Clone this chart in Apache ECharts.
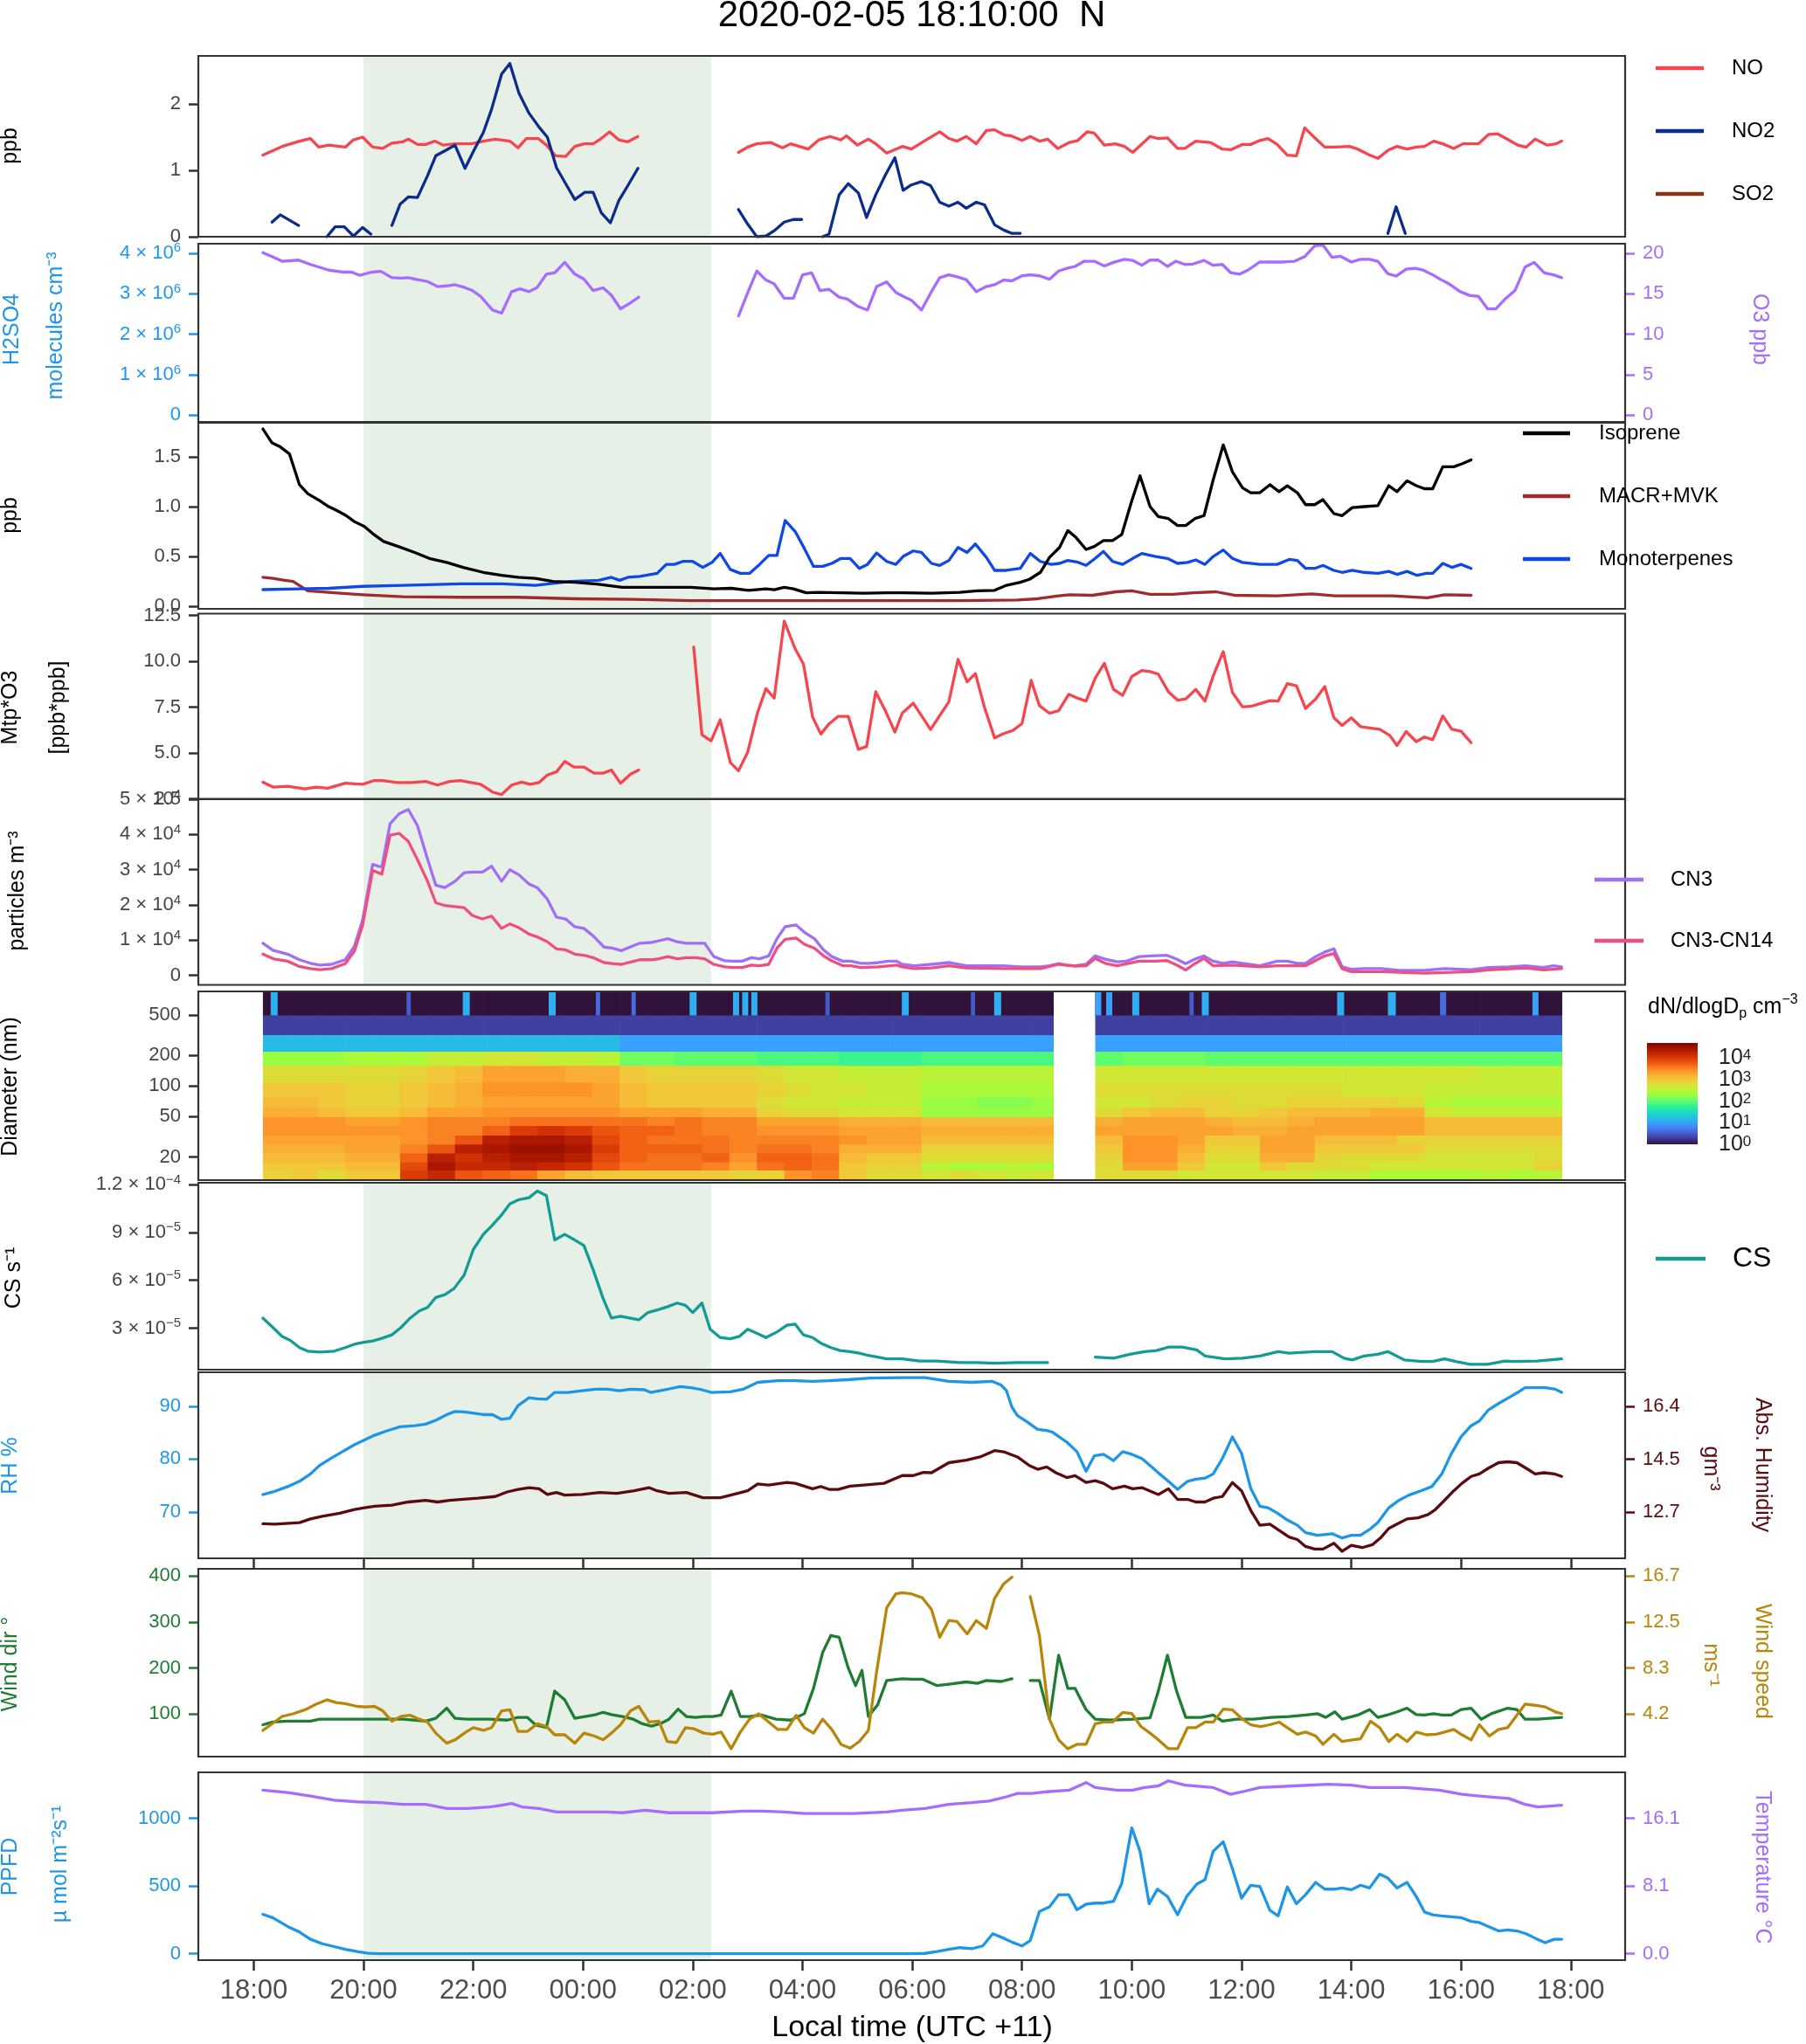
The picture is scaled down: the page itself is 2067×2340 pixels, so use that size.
<!DOCTYPE html>
<html><head><meta charset="utf-8">
<script src="https://cdn.jsdelivr.net/npm/echarts/dist/echarts.min.js"></script>
<style>html,body{margin:0;padding:0;background:#fff}#c{width:2067px;height:2340px}</style>
</head><body><div id="c"></div><script>
// ---------------- DATA ----------------
const titleText = '2020-02-05 18:10:00  N';
const nightStart = '20:00', nightEnd = '02:20';
const xTickHours = [0,2,4,6,8,10,12,14,16,18,20,22,24];

const noData = [['18:10',1.23],['18:31',1.36],['18:50',1.44],['19:02',1.48],['19:11',1.35],['19:22',1.38],['19:40',1.35],['19:49',1.46],['19:59',1.50],['20:10',1.35],['20:21',1.33],['20:31',1.41],['20:43',1.43],['20:49',1.47],['20:59',1.39],['21:08',1.39],['21:18',1.44],['21:27',1.38],['21:40',1.40],['21:58',1.40],['22:11',1.44],['22:24',1.47],['22:40',1.44],['22:49',1.34],['22:58',1.48],['23:11',1.48],['23:20',1.38],['23:30',1.22],['23:41',1.21],['23:51',1.36],['00:01',1.40],['00:11',1.40],['00:20',1.48],['00:29',1.58],['00:39',1.46],['00:49',1.43],['01:00',1.51],['01:50',null],['02:50',1.27],['03:00',1.35],['03:10',1.40],['03:25',1.42],['03:38',1.34],['03:47',1.40],['04:06',1.32],['04:18',1.46],['04:30',1.51],['04:42',1.46],['04:48',1.52],['05:00',1.38],['05:12',1.47],['05:19',1.41],['05:32',1.26],['05:49',1.36],['05:59',1.32],['06:14',1.45],['06:30',1.58],['06:40',1.48],['06:49',1.44],['06:59',1.51],['07:10',1.40],['07:21',1.60],['07:30',1.61],['07:41',1.53],['07:48',1.52],['08:00',1.45],['08:09',1.51],['08:19',1.44],['08:28',1.47],['08:39',1.33],['08:52',1.42],['09:01',1.45],['09:11',1.58],['09:19',1.56],['09:30',1.38],['09:42',1.40],['09:52',1.36],['10:01',1.27],['10:20',1.51],['10:29',1.48],['10:39',1.49],['10:50',1.33],['10:58',1.33],['11:10',1.44],['11:26',1.42],['11:39',1.32],['11:48',1.31],['12:01',1.39],['12:10',1.39],['12:20',1.45],['12:29',1.48],['12:39',1.39],['12:50',1.23],['13:00',1.22],['13:09',1.64],['13:20',1.49],['13:31',1.35],['13:42',1.35],['13:58',1.36],['14:07',1.32],['14:20',1.23],['14:29',1.18],['14:41',1.31],['14:50',1.36],['15:01',1.32],['15:11',1.35],['15:20',1.36],['15:30',1.44],['15:40',1.40],['15:52',1.33],['16:02',1.40],['16:19',1.40],['16:30',1.54],['16:40',1.55],['16:53',1.45],['17:02',1.38],['17:11',1.35],['17:21',1.47],['17:34',1.38],['17:44',1.40],['17:50',1.44]];

const no2Data = [['18:20',0.22],['18:29',0.33],['18:49',0.17],['18:55',null],['19:20',0.0],['19:29',0.15],['19:39',0.15],['19:49',0.01],['19:59',0.14],['20:08',0.04],['20:20',null],['20:31',0.17],['20:40',0.49],['20:49',0.60],['20:59',0.59],['21:10',0.92],['21:19',1.22],['21:31',1.31],['21:40',1.38],['21:51',1.03],['22:01',1.31],['22:11',1.57],['22:20',1.92],['22:31',2.45],['22:40',2.61],['22:50',2.16],['23:01',1.86],['23:12',1.65],['23:21',1.50],['23:31',1.04],['23:41',0.80],['23:51',0.56],['00:02',0.67],['00:11',0.67],['00:20',0.36],['00:30',0.21],['00:39',0.54],['00:49',0.77],['01:00',1.03],['01:50',null],['02:50',0.41],['03:00',0.19],['03:10',0.0],['03:20',0.01],['03:29',0.09],['03:40',0.22],['03:50',0.26],['03:59',0.26],['04:10',null],['04:22',0.0],['04:29',0.04],['04:40',0.63],['04:50',0.80],['05:01',0.66],['05:10',0.29],['05:20',0.63],['05:31',0.94],['05:41',1.19],['05:50',0.70],['05:59',0.78],['06:10',0.83],['06:20',0.77],['06:30',0.52],['06:40',0.46],['06:50',0.52],['06:59',0.43],['07:10',0.52],['07:19',0.48],['07:30',0.18],['07:40',0.10],['07:49',0.05],['07:58',0.05],['08:10',null],['14:40',0.05],['14:49',0.45],['14:59',0.05]];

const so2Data = [];

const o3Data = [['18:10',20.05],['18:20',19.57],['18:31',19.0],['18:49',19.14],['19:02',18.6],['19:22',17.9],['19:37',17.66],['19:47',17.66],['19:56',17.26],['20:09',17.66],['20:19',17.76],['20:31',16.97],['20:41',16.92],['20:49',16.97],['20:59',16.73],['21:10',16.5],['21:21',15.87],['21:31',15.96],['21:40',16.1],['21:50',15.78],['21:59',15.39],['22:08',14.67],['22:21',12.98],['22:31',12.6],['22:42',15.25],['22:51',15.6],['23:01',15.25],['23:10',15.78],['23:20',17.41],['23:29',17.56],['23:40',18.86],['23:51',17.41],['00:01',16.8],['00:11',15.39],['00:22',15.72],['00:31',14.8],['00:41',13.13],['00:51',13.8],['01:01',14.57],['01:50',null],['02:50',12.26],['03:01',15.39],['03:10',17.79],['03:20',16.68],['03:29',16.2],['03:40',14.43],['03:50',14.43],['04:00',17.32],['04:10',17.56],['04:19',15.39],['04:29',15.53],['04:40',14.57],['04:49',14.33],['05:00',13.46],['05:11',12.98],['05:21',15.87],['05:32',16.44],['05:42',15.15],['05:50',14.67],['05:59',14.19],['06:10',12.98],['06:20',15.05],['06:30',16.97],['06:40',17.32],['06:49',17.08],['06:59',16.73],['07:10',15.25],['07:21',15.87],['07:30',16.1],['07:40',16.68],['07:49',16.58],['08:00',17.2],['08:09',17.32],['08:19',17.2],['08:30',16.78],['08:40',17.79],['08:49',18.12],['08:58',18.36],['09:08',19.0],['09:19',19.0],['09:30',18.41],['09:40',18.86],['09:52',19.24],['10:01',19.1],['10:11',18.5],['10:20',19.14],['10:29',19.14],['10:39',18.36],['10:48',19.0],['10:58',18.6],['11:07',18.65],['11:19',19.1],['11:29',18.5],['11:39',18.6],['11:48',17.6],['11:58',17.41],['12:07',17.9],['12:20',18.9],['12:32',18.9],['12:45',18.9],['12:58',19.0],['13:09',19.57],['13:20',20.9],['13:29',21.0],['13:39',19.47],['13:48',19.62],['14:00',18.9],['14:10',19.24],['14:20',19.24],['14:29',19.0],['14:40',17.46],['14:49',17.17],['15:00',18.02],['15:10',18.12],['15:19',17.88],['15:29',17.32],['15:38',16.73],['15:47',16.2],['15:59',15.25],['16:10',14.76],['16:19',14.67],['16:29',13.13],['16:38',13.13],['16:49',14.43],['16:59',15.39],['17:10',18.27],['17:20',18.86],['17:31',17.56],['17:41',17.32],['17:50',16.97]];

const isopreneData = [['18:10',1.78],['18:20',1.64],['18:29',1.60],['18:39',1.53],['18:50',1.22],['18:59',1.13],['19:12',1.06],['19:22',1.00],['19:31',0.96],['19:41',0.91],['19:50',0.85],['20:01',0.80],['20:10',0.73],['20:22',0.65],['20:38',0.60],['20:56',0.54],['21:12',0.48],['21:31',0.44],['21:49',0.39],['22:11',0.34],['22:31',0.31],['22:49',0.29],['23:08',0.28],['23:27',0.25],['23:52',0.24],['00:17',0.22],['00:43',0.19],['01:08',0.19],['01:32',0.19],['01:58',0.19],['02:23',0.175],['02:42',0.18],['03:01',0.16],['03:20',0.175],['03:29',0.165],['03:40',0.19],['03:50',0.175],['04:04',0.135],['04:17',0.14],['04:42',0.135],['05:07',0.13],['05:32',0.135],['05:49',0.135],['06:21',0.13],['06:52',0.14],['07:11',0.155],['07:30',0.16],['07:43',0.21],['07:58',0.24],['08:08',0.27],['08:20',0.34],['08:30',0.49],['08:41',0.59],['08:50',0.76],['08:59',0.69],['09:10',0.57],['09:19',0.60],['09:29',0.66],['09:39',0.66],['09:49',0.72],['10:00',1.06],['10:09',1.31],['10:20',1.00],['10:29',0.90],['10:40',0.88],['10:50',0.81],['10:59',0.81],['11:09',0.88],['11:19',0.91],['11:29',1.27],['11:40',1.62],['11:50',1.35],['12:01',1.19],['12:10',1.14],['12:20',1.14],['12:31',1.22],['12:41',1.15],['12:50',1.21],['13:01',1.14],['13:10',1.02],['13:20',1.02],['13:29',1.07],['13:41',0.93],['13:50',0.91],['14:01',0.99],['14:14',1.00],['14:29',1.01],['14:41',1.21],['14:50',1.15],['15:01',1.26],['15:11',1.21],['15:20',1.18],['15:29',1.18],['15:40',1.40],['15:52',1.40],['16:01',1.43],['16:11',1.47]];

const macrData = [['18:10',0.29],['18:21',0.28],['18:34',0.26],['18:43',0.25],['18:59',0.155],['19:28',0.135],['19:59',0.115],['20:43',0.095],['21:46',0.09],['22:49',0.09],['23:52',0.075],['00:55',0.07],['01:58',0.057],['03:00',0.057],['04:04',0.057],['05:07',0.057],['06:52',0.057],['07:55',0.063],['08:17',0.075],['08:40',0.105],['08:52',0.115],['09:17',0.11],['09:43',0.145],['10:00',0.155],['10:20',0.12],['10:45',0.12],['11:07',0.135],['11:32',0.145],['11:52',0.11],['12:39',0.105],['13:17',0.125],['13:42',0.105],['14:45',0.105],['15:23',0.085],['15:42',0.115],['16:11',0.11]];

const monoData = [['18:10',0.167],['18:50',0.175],['19:22',0.18],['19:59',0.20],['20:43',0.21],['21:46',0.225],['22:31',0.225],['23:08',0.21],['23:46',0.25],['00:17',0.26],['00:31',0.29],['00:40',0.26],['00:49',0.29],['01:02',0.30],['01:21',0.33],['01:31',0.42],['01:40',0.42],['01:49',0.45],['02:00',0.45],['02:11',0.39],['02:21',0.44],['02:30',0.53],['02:41',0.37],['02:52',0.33],['03:02',0.33],['03:13',0.42],['03:23',0.51],['03:32',0.51],['03:41',0.86],['03:52',0.75],['04:02',0.58],['04:12',0.40],['04:22',0.40],['04:32',0.43],['04:42',0.48],['04:52',0.48],['05:02',0.38],['05:11',0.42],['05:21',0.535],['05:32',0.45],['05:42',0.42],['05:50',0.50],['06:01',0.555],['06:10',0.54],['06:21',0.43],['06:30',0.41],['06:40',0.46],['06:50',0.59],['07:00',0.54],['07:09',0.625],['07:21',0.49],['07:30',0.36],['07:43',0.36],['07:58',0.38],['08:09',0.53],['08:20',0.45],['08:32',0.42],['08:41',0.43],['08:50',0.46],['09:00',0.445],['09:10',0.41],['09:20',0.48],['09:29',0.55],['09:39',0.45],['09:50',0.42],['10:01',0.48],['10:11',0.53],['10:26',0.50],['10:39',0.48],['10:50',0.43],['11:01',0.44],['11:10',0.465],['11:20',0.42],['11:29',0.50],['11:40',0.565],['11:50',0.48],['12:01',0.44],['12:20',0.42],['12:39',0.42],['12:52',0.47],['13:01',0.46],['13:10',0.38],['13:20',0.38],['13:29',0.41],['13:41',0.36],['13:50',0.34],['14:01',0.36],['14:14',0.34],['14:29',0.33],['14:41',0.35],['14:50',0.32],['15:01',0.35],['15:12',0.31],['15:22',0.33],['15:29',0.33],['15:40',0.43],['15:50',0.39],['16:00',0.42],['16:11',0.38]];

const mtpO3Data = [['18:10',3.41],['18:21',3.14],['18:37',3.18],['18:56',3.04],['19:08',3.14],['19:21',3.08],['19:40',3.35],['19:59',3.29],['20:11',3.49],['20:21',3.49],['20:37',3.39],['20:52',3.39],['21:08',3.45],['21:21',3.25],['21:34',3.45],['21:46',3.49],['22:08',3.29],['22:21',2.87],['22:31',2.73],['22:42',3.25],['22:53',3.41],['23:02',3.29],['23:12',3.39],['23:21',3.80],['23:31',3.97],['23:40',4.54],['23:50',4.23],['00:01',4.23],['00:12',3.9],['00:22',3.9],['00:31',4.07],['00:41',3.35],['00:52',3.85],['01:01',4.07],['01:30',null],['02:01',10.78],['02:10',5.99],['02:20',5.66],['02:30',6.81],['02:41',4.48],['02:50',4.03],['03:00',5.04],['03:11',7.23],['03:20',8.51],['03:29',7.99],['03:40',12.19],['03:52',10.68],['04:01',9.85],['04:11',6.96],['04:20',6.03],['04:29',6.59],['04:39',7.0],['04:50',7.0],['05:01',5.2],['05:10',5.35],['05:20',8.34],['05:31',7.26],['05:41',6.14],['05:49',7.17],['06:01',7.72],['06:20',6.28],['06:40',7.79],['06:50',10.1],['07:00',8.88],['07:09',9.33],['07:19',7.48],['07:30',5.82],['07:40',6.06],['07:50',6.23],['08:00',6.61],['08:10',8.96],['08:19',7.58],['08:30',7.17],['08:40',7.31],['08:51',8.2],['09:00',8.0],['09:10',7.83],['09:20',9.08],['09:30',9.89],['09:40',8.47],['09:50',8.14],['10:00',9.17],['10:11',9.5],['10:20',9.44],['10:29',9.3],['10:40',8.34],['10:50',7.88],['10:59',7.95],['11:10',8.47],['11:20',7.83],['11:29',9.2],['11:40',10.53],['11:50',8.3],['12:01',7.52],['12:10',7.54],['12:20',7.69],['12:31',7.85],['12:40',7.83],['12:50',8.78],['13:00',8.66],['13:10',7.43],['13:21',7.94],['13:31',8.62],['13:41',6.92],['13:50',6.50],['14:00',6.92],['14:10',6.44],['14:20',6.37],['14:31',6.29],['14:42',5.96],['14:50',5.41],['15:00',6.17],['15:11',5.62],['15:20',5.87],['15:29',5.72],['15:40',7.02],['15:50',6.29],['16:00',6.19],['16:11',5.56]];

const cn3Data = [['18:10',9100],['18:21',7100],['18:37',6000],['18:50',4400],['19:02',3400],['19:12',2900],['19:25',3100],['19:40',4400],['19:50',8200],['19:59',15700],['20:10',31500],['20:20',30700],['20:29',43000],['20:39',45900],['20:49',47100],['20:59',42500],['21:10',33000],['21:19',25600],['21:29',24900],['21:40',26700],['21:50',29100],['21:59',29300],['22:10',29300],['22:20',31000],['22:31',26700],['22:40',30000],['22:50',28500],['23:01',25900],['23:10',24900],['23:21',21600],['23:31',16500],['23:41',16000],['23:51',13800],['00:01',13300],['00:11',11200],['00:23',8000],['00:32',7700],['00:42',7000],['00:53',8200],['01:02',9100],['01:14',9300],['01:23',9800],['01:33',10400],['01:43',9500],['01:53',9100],['02:03',9100],['02:13',9100],['02:23',5300],['02:35',4100],['02:44',4000],['02:54',4000],['03:04',5000],['03:13',4700],['03:23',5500],['03:32',10400],['03:41',13800],['03:53',14300],['04:02',12200],['04:13',10400],['04:23',7200],['04:32',5300],['04:44',4000],['04:53',4000],['05:04',3400],['05:13',3400],['05:23',3600],['05:34',4000],['05:43',4000],['05:49',3100],['06:02',2700],['06:21',3100],['06:40',3600],['06:59',2700],['07:17',2700],['07:40',2700],['07:58',2400],['08:20',2400],['08:30',2700],['08:40',3300],['08:49',2900],['08:58',2700],['09:10',3100],['09:20',5500],['09:32',4500],['09:44',3800],['09:54',4000],['10:08',5300],['10:20',5500],['10:38',5700],['10:49',4600],['10:59',3300],['11:09',4600],['11:19',5500],['11:29',4000],['11:40',3400],['11:50',3800],['12:01',3400],['12:20',2700],['12:39',4000],['12:50',4000],['13:01',3400],['13:10',3400],['13:21',5300],['13:31',6600],['13:41',7500],['13:50',2400],['14:00',1700],['14:14',1900],['14:33',1900],['14:52',1400],['15:20',1400],['15:42',1900],['16:11',1600],['16:30',2200],['16:52',2400],['17:11',2700],['17:30',2200],['17:41',2700],['17:50',2400]];

const cn14Data = [['18:10',6000],['18:21',4700],['18:37',4000],['18:50',2500],['19:02',1900],['19:12',1600],['19:25',1900],['19:40',3300],['19:50',6800],['19:59',14200],['20:10',29800],['20:20',28700],['20:29',39800],['20:39',40300],['20:49',38000],['20:59',32800],['21:10',26700],['21:19',20600],['21:29',19800],['21:40',19500],['21:50',19200],['21:59',17000],['22:10',16000],['22:20',16800],['22:31',13300],['22:40',14600],['22:50',13500],['23:01',11700],['23:10',10900],['23:21',9500],['23:31',7500],['23:41',7200],['23:51',6000],['00:01',5700],['00:11',5000],['00:23',3600],['00:32',3300],['00:42',3100],['00:53',3800],['01:02',4400],['01:14',4400],['01:23',4700],['01:33',5300],['01:43',4700],['01:53',5000],['02:03',5000],['02:13',4700],['02:23',3100],['02:35',2400],['02:44',2200],['02:54',2200],['03:04',2900],['03:13',2700],['03:23',3100],['03:32',7700],['03:41',10200],['03:53',10600],['04:02',8800],['04:13',7700],['04:23',5500],['04:32',4100],['04:44',2700],['04:53',2700],['05:04',2200],['05:23',2400],['05:43',2900],['05:49',2400],['06:02',1900],['06:21',2100],['06:40',2700],['06:59',2100],['07:40',1900],['08:20',1900],['08:40',3100],['08:58',2600],['09:10',2700],['09:20',4800],['09:32',3300],['09:44',2700],['10:08',4000],['10:26',4000],['10:38',4200],['10:49',2900],['10:59',1500],['11:09',3300],['11:19',4800],['11:29',2700],['11:50',2900],['12:20',2400],['12:39',2700],['13:10',2700],['13:21',4200],['13:31',5500],['13:41',6200],['13:50',1900],['14:00',1000],['14:33',1000],['15:20',600],['16:11',1000],['16:30',1500],['17:11',2100],['17:30',1500],['17:50',1900]];

// condensation sink in units of 1e-5 s-1
const csData = [['18:10',3.63],['18:21',3.04],['18:31',2.48],['18:40',2.23],['18:50',1.78],['18:59',1.56],['19:12',1.50],['19:28',1.56],['19:40',1.78],['19:50',1.99],['19:59',2.10],['20:10',2.2],['20:20',2.36],['20:31',2.58],['20:41',3.04],['20:51',3.63],['21:01',4.08],['21:10',4.3],['21:19',4.92],['21:29',5.1],['21:39',5.48],['21:50',6.32],['22:00',7.92],['22:11',8.87],['22:20',9.39],['22:31',10.09],['22:40',10.78],['22:49',11.03],['23:01',11.17],['23:10',11.59],['23:20',11.3],['23:29',8.52],['23:40',8.87],['23:51',8.52],['00:01',8.17],['00:11',6.67],['00:22',4.85],['00:31',3.63],['00:41',3.74],['00:51',3.63],['01:01',3.52],['01:11',3.98],['01:22',4.15],['01:32',4.33],['01:43',4.57],['01:52',4.43],['02:00',3.98],['02:10',4.57],['02:19',2.93],['02:30',2.41],['02:41',2.34],['02:51',2.48],['03:00',2.93],['03:11',2.65],['03:20',2.41],['03:32',2.76],['03:43',3.18],['03:52',3.25],['04:01',2.58],['04:11',2.41],['04:20',2.06],['04:31',1.78],['04:41',1.60],['04:52',1.53],['05:02',1.43],['05:12',1.29],['05:22',1.19],['05:32',1.08],['05:49',1.08],['06:08',0.94],['06:27',0.94],['06:52',0.84],['07:11',0.84],['07:30',0.8],['07:55',0.84],['08:28',0.84],['08:50',null],['09:20',1.19],['09:40',1.12],['09:58',1.36],['10:14',1.53],['10:27',1.60],['10:40',1.81],['10:55',1.81],['11:11',1.64],['11:20',1.26],['11:42',1.08],['12:01',1.12],['12:20',1.26],['12:40',1.53],['12:52',1.43],['13:20',1.53],['13:39',1.53],['13:52',1.12],['14:01',1.01],['14:14',1.26],['14:29',1.36],['14:40',1.53],['14:58',1.01],['15:17',0.91],['15:29',0.91],['15:42',1.08],['15:54',0.91],['16:10',0.73],['16:29',0.73],['16:48',0.94],['16:58',0.91],['17:23',0.94],['17:50',1.08]];

const rhData = [['18:10',73.3],['18:21',73.8],['18:37',74.8],['18:50',75.8],['19:02',77.2],['19:12',78.8],['19:25',80.2],['19:37',81.4],['19:50',82.7],['20:01',83.6],['20:12',84.5],['20:25',85.3],['20:40',86.1],['20:56',86.3],['21:08',86.6],['21:20',87.4],['21:31',88.4],['21:40',89.0],['21:50',88.9],['21:59',88.7],['22:11',88.4],['22:21',88.4],['22:31',87.5],['22:40',87.7],['22:49',90.1],['23:01',91.6],['23:10',91.4],['23:20',91.3],['23:29',92.6],['23:43',92.6],['23:59',92.9],['00:14',93.2],['00:27',93.2],['00:40',92.9],['00:52',93.2],['01:07',93.1],['01:14',92.6],['01:30',93.1],['01:46',93.7],['01:58',93.5],['02:10',93.1],['02:20',92.6],['02:41',92.7],['02:55',93.2],['03:11',94.5],['03:33',94.8],['03:52',94.8],['04:11',94.7],['04:29',94.8],['04:49',95.0],['05:14',95.3],['05:49',95.4],['06:14',95.4],['06:40',94.7],['07:05',94.5],['07:27',94.7],['07:37',94.0],['07:43',92.9],['07:49',89.8],['07:55',88.2],['08:05',87.1],['08:17',85.6],['08:27',85.4],['08:33',85.1],['08:49',83.2],['09:00',81.4],['09:10',77.7],['09:19',80.6],['09:29',80.9],['09:40',79.7],['09:50',81.4],['10:00',80.9],['10:11',80.1],['10:20',78.8],['10:29',77.4],['10:40',75.8],['10:50',74.3],['11:01',75.8],['11:10',76.2],['11:20',76.4],['11:29',77.2],['11:39',80.1],['11:50',84.2],['12:00',81.1],['12:10',74.5],['12:20',71.1],['12:29',70.8],['12:39',69.8],['12:50',68.5],['13:01',67.5],['13:10',66.1],['13:23',65.6],['13:39',65.9],['13:50',65.1],['14:00',65.6],['14:10',65.6],['14:20',66.7],['14:29',68.0],['14:41',70.8],['14:52',72.2],['15:03',73.2],['15:16',74.0],['15:28',74.8],['15:39',77.2],['15:49',80.9],['16:00',84.2],['16:11',86.3],['16:20',87.2],['16:30',89.3],['16:41',90.5],['16:52',91.6],['17:02',92.6],['17:10',93.5],['17:21',93.5],['17:32',93.5],['17:43',93.2],['17:50',92.6]];

const ahData = [['18:10',12.29],['18:23',12.28],['18:50',12.33],['19:02',12.46],['19:15',12.55],['19:34',12.66],['19:50',12.79],['20:01',12.85],['20:12',12.90],['20:31',12.94],['20:49',13.05],['21:08',13.11],['21:21',13.05],['21:34',13.11],['21:46',13.14],['22:05',13.18],['22:24',13.24],['22:37',13.40],['22:49',13.49],['23:01',13.55],['23:12',13.51],['23:21',13.31],['23:31',13.38],['23:40',13.29],['23:59',13.31],['00:18',13.38],['00:37',13.35],['00:56',13.44],['01:12',13.55],['01:21',13.44],['01:34',13.35],['01:53',13.38],['02:11',13.20],['02:30',13.20],['02:49',13.35],['03:00',13.44],['03:11',13.68],['03:23',13.64],['03:43',13.73],['03:52',13.70],['04:11',13.51],['04:20',13.59],['04:29',13.49],['04:39',13.49],['04:52',13.60],['05:07',13.64],['05:29',13.70],['05:49',13.97],['06:01',13.97],['06:12',14.08],['06:21',14.07],['06:40',14.42],['06:59',14.51],['07:14',14.62],['07:30',14.84],['07:40',14.80],['07:55',14.62],['08:08',14.32],['08:17',14.19],['08:27',14.27],['08:37',14.07],['08:49',13.90],['08:58',13.97],['09:10',13.73],['09:20',13.79],['09:29',13.70],['09:39',13.51],['09:52',13.60],['10:01',13.51],['10:11',13.55],['10:29',13.31],['10:40',13.51],['10:50',13.14],['11:01',13.14],['11:10',13.05],['11:20',13.05],['11:29',13.18],['11:39',13.24],['11:50',13.73],['12:00',13.44],['12:10',12.76],['12:20',12.24],['12:31',12.28],['12:42',12.04],['12:52',11.83],['13:01',11.74],['13:10',11.50],['13:20',11.41],['13:29',11.41],['13:41',11.61],['13:50',11.33],['14:00',11.54],['14:12',11.46],['14:23',11.56],['14:32',11.80],['14:41',12.13],['14:50',12.28],['15:01',12.46],['15:13',12.50],['15:24',12.61],['15:32',12.79],['15:42',13.11],['15:52',13.44],['16:01',13.70],['16:11',13.94],['16:20',14.03],['16:30',14.23],['16:41',14.42],['16:51',14.45],['17:01',14.42],['17:11',14.23],['17:21',14.03],['17:31',14.07],['17:42',14.03],['17:50',13.94]];

const windDirData = [['18:10',77],['18:21',83],['18:37',85],['19:02',85],['19:12',89],['19:40',89],['20:12',89],['20:43',89],['21:08',85],['21:19',91],['21:31',113],['21:40',91],['21:53',89],['22:18',89],['22:37',87],['22:49',93],['22:59',93],['23:08',77],['23:20',71],['23:29',150],['23:40',131],['23:51',91],['00:02',95],['00:12',98],['00:22',104],['00:31',99],['00:43',95],['00:55',89],['01:05',79],['01:15',74],['01:25',80],['01:34',89],['01:44',111],['01:53',95],['02:03',93],['02:13',95],['02:22',95],['02:31',98],['02:42',150],['02:52',95],['03:02',95],['03:15',98],['03:31',89],['03:47',87],['04:02',101],['04:12',156],['04:22',234],['04:31',271],['04:40',267],['04:50',200],['04:58',162],['05:05',195],['05:12',95],['05:22',120],['05:32',173],['05:49',177],['05:59',176],['06:11',176],['06:27',162],['06:40',165],['06:59',170],['07:11',167],['07:21',173],['07:37',171],['07:49',177],['08:00',null],['08:09',173],['08:19',173],['08:30',89],['08:40',228],['08:50',156],['08:58',156],['09:10',110],['09:20',89],['09:36',87],['10:01',89],['10:20',92],['10:29',150],['10:39',228],['10:49',150],['10:59',93],['11:16',93],['11:29',98],['11:39',85],['11:55',89],['12:13',89],['12:32',93],['12:52',95],['13:10',98],['13:23',101],['13:32',93],['13:42',105],['13:50',89],['14:07',98],['14:20',110],['14:29',93],['14:39',98],['14:50',105],['15:01',113],['15:11',99],['15:20',98],['15:30',101],['15:39',98],['15:49',98],['16:00',110],['16:11',113],['16:22',89],['16:33',101],['16:51',113],['17:01',110],['17:10',89],['17:24',89],['17:50',93]];

const windSpeedData = [['18:10',2.70],['18:21',3.35],['18:31',3.96],['18:43',4.20],['18:56',4.56],['19:08',5.07],['19:20',5.47],['19:30',5.22],['19:40',5.12],['19:53',4.87],['20:02',4.82],['20:12',4.87],['20:21',4.47],['20:31',3.53],['20:41',3.97],['20:51',4.07],['21:01',3.71],['21:10',3.45],['21:19',2.45],['21:31',1.54],['21:40',1.84],['21:52',2.55],['22:00',2.95],['22:11',2.70],['22:20',2.95],['22:31',4.47],['22:40',4.56],['22:49',2.60],['22:59',2.60],['23:10',3.30],['23:20',3.05],['23:29',2.30],['23:40',2.30],['23:51',1.54],['00:01',2.45],['00:12',2.20],['00:22',1.84],['00:31',2.45],['00:41',3.21],['00:52',4.47],['01:01',4.87],['01:12',3.45],['01:23',3.53],['01:32',1.69],['01:42',1.59],['01:52',2.95],['02:01',2.85],['02:12',2.45],['02:22',2.35],['02:31',2.55],['02:42',1.04],['02:52',2.55],['03:02',3.71],['03:12',4.20],['03:22',3.53],['03:33',2.78],['03:43',2.78],['03:53',4.07],['04:02',2.95],['04:12',2.45],['04:22',3.71],['04:32',2.78],['04:42',1.44],['04:52',1.09],['05:02',1.69],['05:12',2.70],['05:21',7.99],['05:32',13.79],['05:42',15.05],['05:49',15.15],['05:59',15.05],['06:11',14.70],['06:21',13.65],['06:30',11.13],['06:40',12.64],['06:49',12.54],['07:00',11.43],['07:10',12.64],['07:21',11.93],['07:30',14.65],['07:40',15.96],['07:49',16.57],['08:00',null],['08:09',14.80],['08:19',11.28],['08:30',3.71],['08:40',1.84],['08:50',1.04],['09:00',1.44],['09:10',1.44],['09:20',3.30],['09:29',3.45],['09:39',3.45],['09:50',4.32],['10:00',4.22],['10:10',3.05],['10:20',2.45],['10:29',1.84],['10:40',1.04],['10:50',1.04],['11:01',2.95],['11:10',2.95],['11:20',3.45],['11:29',3.45],['11:40',4.62],['11:50',4.56],['12:01',3.71],['12:10',3.21],['12:21',3.05],['12:31',3.21],['12:41',3.45],['12:50',2.95],['13:01',2.35],['13:10',2.55],['13:21',2.20],['13:29',1.44],['13:41',2.35],['13:50',1.69],['14:01',1.84],['14:10',1.94],['14:21',3.53],['14:31',2.95],['14:41',1.69],['14:50',2.35],['15:01',1.69],['15:11',2.55],['15:22',2.30],['15:33',2.35],['15:42',2.55],['15:52',2.78],['16:01',2.30],['16:11',1.84],['16:20',3.21],['16:31',2.20],['16:41',2.78],['16:51',2.95],['17:10',5.07],['17:21',4.97],['17:32',4.82],['17:43',4.37],['17:50',4.22]];

const ppfdData = [['18:10',292],['18:21',265],['18:37',202],['18:50',161],['19:02',107],['19:15',74],['19:28',53],['19:40',33],['19:53',16],['20:05',4],['20:18',0],['06:00',0],['06:14',3],['06:27',16],['06:40',33],['06:52',45],['07:05',37],['07:17',58],['07:28',148],['07:40',115],['07:49',86],['08:00',58],['08:09',98],['08:19',313],['08:30',346],['08:40',436],['08:51',436],['09:00',325],['09:10',366],['09:20',374],['09:29',374],['09:40',387],['09:49',519],['10:00',930],['10:09',757],['10:19',370],['10:28',477],['10:39',423],['10:50',288],['11:00',423],['11:11',514],['11:20',547],['11:29',757],['11:40',827],['11:50',629],['12:00',411],['12:10',506],['12:20',498],['12:31',321],['12:40',280],['12:50',494],['13:00',370],['13:10',436],['13:21',527],['13:31',477],['13:41',477],['13:50',486],['14:00',473],['14:10',506],['14:20',486],['14:31',588],['14:40',559],['14:50',486],['15:01',527],['15:11',423],['15:20',309],['15:29',288],['15:39',280],['16:00',267],['16:11',239],['16:20',231],['16:31',198],['16:41',169],['16:51',177],['17:01',169],['17:11',148],['17:21',115],['17:32',82],['17:42',107],['17:50',107]];

const tempData = [['18:10',19.5],['18:37',19.2],['19:02',18.8],['19:28',18.3],['19:53',18.1],['20:18',18.0],['20:43',17.8],['21:08',17.8],['21:31',17.3],['21:53',17.3],['22:18',17.5],['22:31',17.7],['22:42',17.9],['22:53',17.5],['23:12',17.3],['23:31',16.9],['23:53',16.9],['00:25',16.9],['00:43',16.8],['01:08',17.1],['01:34',16.8],['02:22',16.8],['02:56',17.0],['03:15',17.0],['03:40',16.9],['04:02',16.7],['04:31',16.7],['04:56',16.7],['05:32',16.9],['05:49',17.1],['06:14',17.3],['06:40',17.8],['07:05',18.0],['07:24',18.2],['07:43',18.7],['07:55',19.1],['08:11',19.1],['08:27',19.3],['08:52',19.5],['09:10',20.4],['09:20',19.8],['09:43',19.5],['10:01',19.5],['10:14',19.8],['10:29',20.0],['10:40',20.6],['10:58',20.1],['11:29',19.8],['11:48',19.0],['12:01',19.3],['12:20',19.8],['12:58',20.0],['13:35',20.2],['14:00',20.1],['14:20',19.8],['14:58',19.8],['15:36',19.5],['16:01',19.0],['16:20',18.8],['16:52',18.5],['17:10',17.8],['17:24',17.5],['17:50',17.7]];

// size distribution (log10 dN/dlogDp x10), rows bottom -> top, columns: segment 1 then segment 2
const hmSeg1 = ['18:10','18:40','19:10','19:40','20:10','20:40','21:10','21:40','22:10','22:40','23:10','23:40','00:10','00:40','01:10','01:40','02:10','02:40','03:10','03:40','04:10','04:40','05:10','05:40','06:10','06:40','07:10','07:40','08:10','08:34'];
const hmSeg2 = ['09:20','09:50','10:20','10:50','11:20','11:50','12:20','12:50','13:20','13:50','14:20','14:50','15:20','15:50','16:20','16:50','17:20','17:50'];
const hmDiamEdges = [12,15,18,22,27,33,41,50,62,80,110,160,220,320,500,850];
const hmRows = [
 [29,30,28,30,30,40,42,38,37,36,33,31,30,30,30,30,30,29,29,34,35,30,28,28,27,28,27,26,27, 28,28,28,27,27,27,27,27,26,26,24,24,24,24,25,24,25],
 [30,30,30,31,31,39,44,42,42,43,42,41,38,36,36,36,35,33,36,37,36,30,29,29,25,24,24,25,24, 28,33,33,30,27,27,30,28,28,28,27,27,27,27,27,27,29],
 [31,31,31,32,32,37,43,41,43,44,44,43,39,37,36,36,37,34,37,37,36,31,30,30,28,28,28,28,28, 29,34,34,31,28,28,32,32,29,28,28,28,27,27,27,27,28],
 [32,32,32,33,33,35,38,43,44,45,45,44,40,37,37,37,36,35,36,36,35,32,32,32,29,29,29,29,29, 30,34,34,32,29,29,33,33,30,30,30,30,28,28,28,28,28],
 [33,33,33,33,33,34,35,38,43,44,44,43,39,37,36,36,36,35,35,35,35,34,33,33,31,31,31,31,31, 31,34,34,33,30,30,33,33,31,31,31,29,29,29,29,29,29],
 [34,34,34,34,34,34,35,35,37,40,41,40,38,37,37,36,35,35,34,34,34,33,33,33,32,32,32,32,32, 33,33,33,33,33,32,32,33,33,33,33,33,31,31,31,31,31],
 [34,34,34,33,33,34,35,35,35,36,36,36,36,36,35,36,35,35,33,33,33,32,32,32,31,31,31,31,31, 32,33,33,33,32,31,31,32,33,33,33,33,31,31,31,31,31],
 [32,32,31,30,30,31,33,33,34,34,34,34,34,33,33,33,32,32,29,28,28,27,27,27,23,23,23,23,23, 28,30,31,31,29,29,30,31,31,31,32,32,27,26,26,26,26],
 [31,31,30,29,29,30,31,32,33,33,33,33,33,31,30,30,30,30,28,27,27,26,26,26,23,23,22,22,23, 27,27,28,29,29,28,28,29,29,29,29,28,25,24,24,24,24],
 [30,30,30,29,29,30,31,32,34,34,34,34,33,31,30,30,30,30,29,28,27,27,26,26,24,24,24,24,24, 28,28,28,28,28,28,28,28,28,27,27,27,26,26,26,26,26],
 [28,28,28,28,28,29,30,31,33,33,33,32,32,30,29,29,29,29,28,27,27,26,26,26,25,25,25,25,25, 27,27,27,27,27,27,27,27,27,27,27,27,27,27,26,26,26],
 [23,23,23,24,24,24,26,26,27,27,26,26,25,21,21,20,20,20,19,19,19,18,18,18,19,19,19,19,19, 20,21,21,21,20,20,20,20,20,20,20,20,20,20,20,20,20],
 [12,12,12,12,12,12,12,12,12,12,12,12,12,10,10,10,10,10,10,10,10,10,10,10,10,10,10,10,10, 10,10,10,10,10,10,10,10,10,10,10,10,10,10,10,10,10],
 [3,3,3,3,3,3,3,3,3,3,3,3,3,3,3,3,3,3,3,3,3,3,3,3,3,3,3,3,3, 3,3,3,3,3,3,3,3,3,3,3,3,3,3,3,3,3],
 [0,0,0,0,0,0,0,0,0,0,0,0,0,0,0,0,0,0,0,0,0,0,0,0,0,0,0,0,0, 0,0,0,0,0,0,0,0,0,0,0,0,0,0,0,0,0]
];
// short bright bursts in the top size bin: [time, log10 value, width in minutes]
const hmStreaks = [['18:22',1.1,7],['20:49',0.5,4],['21:52',1.1,7],['23:26',1.1,7],['00:16',0.6,4],['00:55',0.6,4],['02:00',1.1,7],['02:47',1.1,6],['02:57',1.1,6],['03:07',1.1,6],['04:27',0.5,4],['05:52',1.1,7],['07:06',0.5,4],['07:33',1.1,7],['09:23',1.0,6],['09:35',1.0,6],['10:04',1.1,7],['11:05',0.5,4],['11:20',1.1,7],['13:48',1.1,7],['14:44',1.1,8],['15:40',0.6,6],['17:21',1.0,6]];
const colorbarTicksEven = [0,2,4];
const colorbarTicksOdd = [1,3];

// ---------------- HELPERS ----------------
const FONT = '"Liberation Sans", Arial, Helvetica, sans-serif';
const C = { no:'#f6454f', no2:'#0c2c8c', so2:'#8b3510', o3:'#a66cff', h2so4:'#1e96f0', iso:'#000000', macr:'#a02a2e', mono:'#1048e8', mtp:'#f6454f', cn3:'#a06ff5', cn14:'#ee4f80', cs:'#129c94', rh:'#1e96e8', ah:'#5b0a0f', wd:'#1e7d32', ws:'#b8860b', ppfd:'#1e96e8', temp:'#a66cff', night:'#e7f0e7', txt:'#444444' };
const turbo = ['#30123b','#4145ab','#4675ed','#39a2fc','#1bcfd4','#24eca6','#61fc6c','#a4fc3b','#d1e834','#f3c63a','#fe9b2d','#f36315','#d93806','#b11901','#7a0403'];
const SUP = {'0':'⁰','1':'¹','2':'²','3':'³','4':'⁴','5':'⁵','6':'⁶','7':'⁷','8':'⁸','9':'⁹','-':'⁻'};
const sup = s => String(s).split('').map(c => SUP[c] || c).join('');

function tt(s){ const p = s.split(':').map(Number); let v = p[0] + p[1]/60; if (v < 18) v += 24; return v - 18; }
function pts(arr){ return arr.map(d => [tt(d[0]), d[1] === null ? '-' : d[1]]); }
function fmtHour(v){ const h = (18 + Math.round(v)) % 24; return (h < 10 ? '0' : '') + h + ':00'; }
function richStyle(color, size, supSize, lh){
  return { n:{fontSize:size, color, fontFamily:FONT, lineHeight: lh || size+4}, e:{fontSize:supSize, color, fontFamily:FONT, lineHeight:supSize, verticalAlign:'top'} };
}

const X_MIN = -1.01, X_MAX = 24.99;
const grids = [
  {top:64, height:207}, {top:279, height:204}, {top:484, height:213}, {top:702.5, height:212},
  {top:915, height:212.5}, {top:1135, height:216}, {top:1354, height:214}, {top:1571, height:213},
  {top:1796, height:215}, {top:2029, height:215}
];

function yAx(gi, min, max, ticks, color, fmt, position, type){
  const o = {
    type: type || 'value', gridIndex: gi, min, max, position: position || 'left',
    splitLine:{show:false}, axisLine:{show:false, onZero:false},
    axisTick:{show:true, length:11, customValues: ticks, lineStyle:{color: color === C.txt ? '#333' : color, width:2.5}},
    axisLabel:{customValues: ticks, interval:0, showMinLabel:true, showMaxLabel:true, hideOverlap:false, fontSize:22, color, margin:20, fontFamily: FONT, rich: richStyle(color, 22, 15), formatter: fmt || (v => String(v))}
  };
  if (type === 'log') o.logBase = 10;
  return o;
}
const sci = (m, e) => '{n|' + m + ' × 10}{e|' + e + '}';
function cbAxis(position, labelTicks, tickVals){
  return {type:'value', gridIndex:10, min:0, max:4.7, position, splitLine:{show:false}, axisLine:{show:false, onZero:false},
    axisTick:{show: tickVals.length > 0, inside:true, length:9, customValues: tickVals.length ? tickVals : [0], lineStyle:{color:'#ffffff', width:2}},
    axisLabel:{show: labelTicks.length > 0, customValues: labelTicks.length ? labelTicks : [0], showMinLabel:true, showMaxLabel:true, fontSize:24, color:'#222', margin:24, fontFamily:FONT,
      rich: richStyle('#222', 25, 17, 22), formatter: v => '{n|10}{e|' + Math.round(v) + '}'}};
}

const yAxes = [
  yAx(0, 0, 2.724, [0,1,2], C.txt),
  yAx(1, -0.164e6, 4.232e6, [0,1e6,2e6,3e6,4e6], C.h2so4, v => v === 0 ? '{n|0}' : sci(Math.round(v/1e6), '6')),
  yAx(1, -0.82, 21.16, [0,5,10,15,20], C.o3, null, 'right'),
  yAx(2, -0.026, 1.842, [0,0.5,1,1.5], C.txt, v => v.toFixed(1)),
  yAx(3, 2.5, 12.6, [2.5,5,7.5,10,12.5], C.txt, v => v.toFixed(1)),
  yAx(4, -2730, 50000, [0,1e4,2e4,3e4,4e4,5e4], C.txt, v => v === 0 ? '{n|0}' : sci(Math.round(v/1e4), '4')),
  yAx(5, 11.9, 849, [20,50,100,200,500], C.txt, null, 'left', 'log'),
  yAx(6, 4.0e-6, 1.2106e-4, [3e-5,6e-5,9e-5,1.2e-4], C.txt, v => v >= 1e-4 ? sci((v/1e-4).toFixed(1), '−4') : sci(Math.round(v/1e-5), '−5')),
  yAx(7, 61.25, 96.4, [70,80,90], C.rh),
  yAx(7, 11.086, 17.571, [12.7,14.54,16.39], C.ah, v => v.toFixed(1), 'right'),
  yAx(8, 7.8, 415.7, [100,200,300,400], C.wd),
  yAx(8, 0.325, 17.321, [100/24,200/24,300/24,400/24], C.ws, v => v.toFixed(1), 'right'),
  yAx(9, -47, 1340, [0,500,1000], C.ppfd),
  yAx(9, -0.758, 21.613, [0,500/62,1000/62], C.temp, v => v.toFixed(1), 'right'),
  // colourbar axes (labels split over two coincident axes so none are dropped)
  cbAxis('right', colorbarTicksEven, [1,2,3,4]),
  cbAxis('left', [], [1,2,3,4]),
  cbAxis('right', colorbarTicksOdd, [])
];
const leftY = [0,1,3,4,5,6,7,8,10,12];

const xAxes = grids.map((g, i) => ({
  type:'value', gridIndex:i, min:X_MIN, max:X_MAX,
  axisLine:{show:false, onZero:false}, splitLine:{show:false},
  axisTick:{show: i === 7 || i === 9, length:12, customValues: xTickHours, lineStyle:{color:'#333', width:2.5}},
  axisLabel:{show: i === 9, customValues: xTickHours, interval:0, showMinLabel:true, showMaxLabel:true, formatter: fmtHour, fontSize:31, color:'#4d4d4d', margin:20, fontFamily:FONT}
}));
xAxes.push({type:'value', gridIndex:10, min:0, max:1, show:false, axisLine:{onZero:false}});

const gridOpts = grids.map(g => ({left:227, width:1633, top:g.top, height:g.height, show:true, borderColor:'#333', borderWidth:2.2, backgroundColor:'transparent', z:5}));
gridOpts.push({left:1885, width:58, top:1194, height:116, show:false});

// ---------------- SERIES ----------------
const series = [];
function line(name, data, gi, yi, color){
  series.push({name, type:'line', xAxisIndex:gi, yAxisIndex:yi, data:pts(data), showSymbol:false, symbol:'none', connectNulls:false,
    lineStyle:{color, width:3.3, join:'round', cap:'round'}, itemStyle:{color}, z:3, animation:false, silent:true});
}
// night shading (all panels except the size distribution)
grids.forEach((g, i) => {
  if (i === 5) return;
  const ya = yAxes[leftY[i]];
  series.push({type:'line', xAxisIndex:i, yAxisIndex:leftY[i], data:[[tt(nightStart), ya.min]], symbol:'none', lineStyle:{width:0}, silent:true, z:1,
    markArea:{silent:true, itemStyle:{color:C.night}, data:[[{xAxis: tt(nightStart)}, {xAxis: tt(nightEnd)}]]}});
});

line('NO', noData, 0, 0, C.no);
line('NO2', no2Data, 0, 0, C.no2);
line('SO2', so2Data, 0, 0, C.so2);
line('O3', o3Data, 1, 2, C.o3);
line('MACR+MVK', macrData, 2, 3, C.macr);
line('Monoterpenes', monoData, 2, 3, C.mono);
line('Isoprene', isopreneData, 2, 3, C.iso);
line('Mtp*O3', mtpO3Data, 3, 4, C.mtp);
line('CN3', cn3Data, 4, 5, C.cn3);
line('CN3-CN14', cn14Data, 4, 5, C.cn14);
line('CS', csData.map(d => [d[0], d[1] === null ? null : d[1]*1e-5]), 6, 7, C.cs);
line('RH', rhData, 7, 8, C.rh);
line('AbsHum', ahData, 7, 9, C.ah);
line('WindDir', windDirData, 8, 10, C.wd);
line('WindSpeed', windSpeedData, 8, 11, C.ws);
line('Temperature', tempData, 9, 13, C.temp);
line('PPFD', ppfdData, 9, 12, C.ppfd);

// size distribution cells
const hmCells = [];
let col = 0;
[hmSeg1, hmSeg2].forEach(seg => {
  for (let k = 0; k < seg.length - 1; k++, col++) {
    const t0 = tt(seg[k]), t1 = tt(seg[k+1]);
    for (let r = 0; r < hmRows.length; r++) hmCells.push([t0, t1, hmDiamEdges[r], hmDiamEdges[r+1], hmRows[r][col]/10]);
  }
});
const topLo = hmDiamEdges[hmDiamEdges.length-2], topHi = hmDiamEdges[hmDiamEdges.length-1];
const streakCells = hmStreaks.map(s => [tt(s[0]) - s[2]/120, tt(s[0]) + s[2]/120, topLo, topHi, s[1]]);
function rectItem(params, api){
  const p0 = api.coord([api.value(0), api.value(3)]);
  const p1 = api.coord([api.value(1), api.value(2)]);
  return {type:'rect', shape:{x:p0[0], y:p0[1], width:p1[0]-p0[0]+0.7, height:p1[1]-p0[1]+0.7}, style:{fill: api.visual('color')}};
}
const hmIndex = series.length;
series.push({type:'custom', name:'dist', xAxisIndex:5, yAxisIndex:6, data:hmCells, renderItem:rectItem, encode:{x:[0,1], y:[2,3]}, clip:true, silent:true, z:2, animation:false});
series.push({type:'custom', name:'bursts', xAxisIndex:5, yAxisIndex:6, data:streakCells, renderItem:rectItem, encode:{x:[0,1], y:[2,3]}, clip:true, silent:true, z:3, animation:false});
// colourbar
series.push({type:'custom', name:'colorbar', xAxisIndex:10, yAxisIndex:14, data:[[0, 1, 0, 4.7]], encode:{x:[0,1], y:[2,3]}, silent:true, animation:false,
  renderItem: (params, api) => {
    const p0 = api.coord([api.value(0), api.value(3)]);
    const p1 = api.coord([api.value(1), api.value(2)]);
    const stops = turbo.map((c, i) => ({offset: i/(turbo.length-1), color: c}));
    return {type:'rect', shape:{x:p0[0], y:p0[1], width:p1[0]-p0[0], height:p1[1]-p0[1]}, style:{fill: new echarts.graphic.LinearGradient(0, 1, 0, 0, stops)}};
  }});

// ---------------- TEXT / LEGENDS ----------------
const G = [];
function txt(text, x, y, size, color, rot, align){
  G.push({type:'text', x, y, rotation: rot || 0, z:100, silent:true,
    style:{text, fill:color, font: size + 'px ' + FONT, textAlign: align || 'center', textVerticalAlign:'middle', align: align || 'center', verticalAlign:'middle'}});
}
function legItem(label, color, x1, x2, y, tx, size){
  G.push({type:'line', z:100, silent:true, shape:{x1, y1:y, x2, y2:y}, style:{stroke:color, lineWidth:4.5}});
  txt(label, tx, y, size || 24, '#000', 0, 'left');
}
const R = Math.PI/2;
txt(titleText, 1043.5, 18, 42, '#000');
txt('ppb', 12, 167, 25, '#000', R);
txt('H2SO4', 14, 377, 25, C.h2so4, R);
txt('molecules cm' + sup(-3), 64, 373, 25, C.h2so4, R);
txt('ppb', 12, 590, 25, '#000', R);
txt('Mtp*O3', 12, 810, 25, '#000', R);
txt('[ppb*ppb]', 67, 810, 25, '#000', R);
txt('particles m' + sup(-3), 20, 1020, 25, '#000', R);
txt('Diameter (nm)', 12, 1244, 25, '#000', R);
txt('CS s' + sup(-1), 16, 1463, 25, '#000', R);
txt('RH %', 12, 1678, 25, C.rh, R);
txt('Wind dir °', 12, 1905, 25, C.wd, R);
txt('PPFD', 12, 2137, 25, C.ppfd, R);
txt('µ mol m' + sup(-2) + 's' + sup(-1), 69, 2134, 25, C.ppfd, R);
txt('O3 ppb', 2014, 377, 25, C.o3, -R);
txt('Abs. Humidity', 2017, 1677, 25, C.ah, -R);
txt('gm' + sup(-3), 1958, 1681, 25, C.ah, -R);
txt('Wind speed', 2017, 1902, 25, C.ws, -R);
txt('ms' + sup(-1), 1958, 1906, 25, C.ws, -R);
txt('Temperature °C', 2017, 2138, 25, C.temp, -R);
txt('Local time (UTC +11)', 1044, 2322, 34, '#000');

legItem('NO', C.no, 1895, 1950, 78, 1982);
legItem('NO2', C.no2, 1895, 1950, 150, 1982);
legItem('SO2', C.so2, 1895, 1950, 222, 1982);
legItem('Isoprene', C.iso, 1743, 1797, 496, 1830);
legItem('MACR+MVK', C.macr, 1743, 1797, 568, 1830);
legItem('Monoterpenes', C.mono, 1743, 1797, 640, 1830);
legItem('CN3', C.cn3, 1825, 1881, 1007, 1912);
legItem('CN3-CN14', C.cn14, 1825, 1881, 1077, 1912);
legItem('CS', C.cs, 1895, 1952, 1441, 1983, 32);
G.push({type:'text', x:1886, y:1153, z:100, silent:true, style:{
  text:'{a|dN/dlogD}{s|p}{a| cm}{u|−3}', textVerticalAlign:'middle', verticalAlign:'middle',
  rich:{a:{fontSize:25, fontFamily:FONT, fill:'#000', color:'#000', lineHeight:32}, s:{fontSize:16, fontFamily:FONT, fill:'#000', color:'#000', verticalAlign:'bottom', lineHeight:14}, u:{fontSize:16, fontFamily:FONT, fill:'#000', color:'#000', verticalAlign:'top', lineHeight:14}}}});

// ---------------- CHART ----------------
const chart = echarts.init(document.getElementById('c'), null, {renderer:'canvas'});
chart.setOption({
  backgroundColor:'#ffffff', animation:false,
  textStyle:{fontFamily:FONT},
  grid: gridOpts, xAxis: xAxes, yAxis: yAxes, series,
  visualMap:{type:'continuous', show:false, min:0, max:4.7, dimension:4, seriesIndex:[hmIndex, hmIndex+1], inRange:{color: turbo}},
  graphic:{elements: G}
});
</script></body></html>
